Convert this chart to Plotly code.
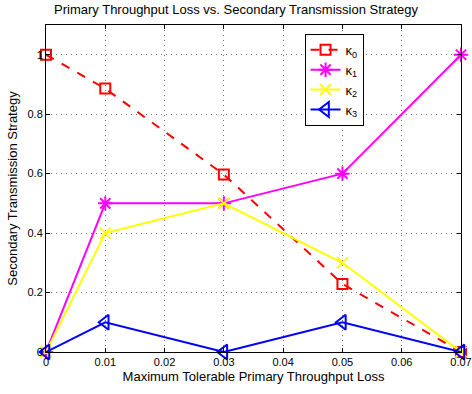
import plotly.graph_objects as go

# Maximum tolerable primary throughput loss (x) and strategy weights per kappa
loss = [0, 0.01, 0.03, 0.05, 0.07]
kappa0 = [1.0, 0.886, 0.597, 0.229, 0.0]
kappa1 = [0.0, 0.5, 0.5, 0.6, 1.0]
kappa2 = [0.0, 0.4, 0.5, 0.3, 0.0]
kappa3 = [0.0, 0.1, 0.0, 0.1, 0.0]

x_ticks = [0, 0.01, 0.02, 0.03, 0.04, 0.05, 0.06, 0.07]
x_tick_text = ["0", "0.01", "0.02", "0.03", "0.04", "0.05", "0.06", "0.07"]
y_ticks = [0, 0.2, 0.4, 0.6, 0.8, 1.0]
y_tick_text = ["0", "0.2", "0.4", "0.6", "0.8", "1"]

series = [
    ("κ<sub>0</sub>", kappa0, "#ff0000", "dash", "square-open", 10, 2),
    ("κ<sub>1</sub>", kappa1, "#ff00ff", "solid", "asterisk-open", 12, 2),
    ("κ<sub>2</sub>", kappa2, "#ffff00", "solid", "x-thin-open", 11, 2),
    ("κ<sub>3</sub>", kappa3, "#0000ff", "solid", "triangle-left-open", 13, 2),
]

fig = go.Figure()
for name, vals, color, dash, symbol, msize, mlw in series:
    fig.add_trace(go.Scatter(
        x=loss, y=vals, name=name, mode="lines+markers",
        line=dict(color=color, width=2, dash=dash),
        marker=dict(symbol=symbol, size=msize, color=color,
                    line=dict(color=color, width=mlw)),
        cliponaxis=False,
    ))

font = "Liberation Sans, Arial, Helvetica, sans-serif"
axis_common = dict(
    showline=True, linecolor="black", linewidth=1, mirror="ticks",
    ticks="inside", ticklen=4, tickcolor="black",
    showgrid=True, gridcolor="#777777", griddash="1px,4px", gridwidth=1,
    zeroline=False, automargin=False,
    tickfont=dict(size=11, color="black", family=font),
)

fig.update_layout(
    width=472, height=394,
    margin=dict(l=46, r=11, t=25, b=42),
    paper_bgcolor="white", plot_bgcolor="white",
    font=dict(family=font, color="black"),
    title=dict(text="Primary Throughput Loss vs. Secondary Transmission Strategy",
               x=0.5, xanchor="center", y=0.975, yanchor="middle",
               font=dict(size=13, color="black", family=font)),
    xaxis=dict(range=[0, 0.07], tickvals=x_ticks, ticktext=x_tick_text,
               title=dict(text="Maximum Tolerable Primary Throughput Loss",
                          font=dict(size=13), standoff=4),
               **axis_common),
    yaxis=dict(range=[0, 1.1], tickvals=y_ticks, ticktext=y_tick_text,
               title=dict(text="Secondary Transmission Strategy",
                          font=dict(size=13), standoff=6),
               **axis_common),
    legend=dict(x=0.623, y=0.973, xanchor="left", yanchor="top",
                bgcolor="white", bordercolor="black", borderwidth=1,
                font=dict(size=13, family=font), tracegroupgap=0,
                itemwidth=30),
    showlegend=True,
)

fig.write_html("out.html")
